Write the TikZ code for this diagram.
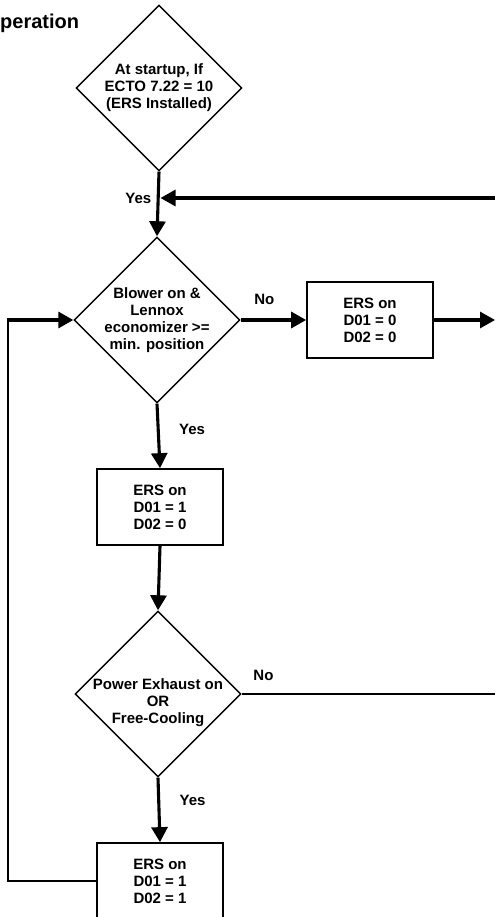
\documentclass[tikz,border=0pt]{standalone}
\usepackage{fontspec}
\setmainfont{Liberation Sans}
\usetikzlibrary{shapes.geometric,arrows.meta}

\tikzset{
  decision/.style={diamond, draw, line width=1.4pt, minimum width=166pt,
    minimum height=166pt, inner sep=-6pt, align=center},
  action/.style={rectangle, draw, line width=1.7pt, minimum width=126pt,
    minimum height=76pt, align=center},
  arrowhd/.style={-{Triangle[length=15pt,width=16pt]}},
  flow/.style={line width=3.1pt, arrowhd},
  thinline/.style={line width=1.8pt},
}

\begin{document}
\begin{tikzpicture}[x=1pt, y=-1pt, font=\fontsize{15}{17}\selectfont\bfseries]
\useasboundingbox (0,0) rectangle (495,917);

% heading (cut at the left edge)
\node[anchor=west, inner sep=0pt, font=\fontsize{20}{24}\selectfont\bfseries] (title) at (0,23) {peration};

% decisions and actions
\node[decision] (start)  at (159,88)  {At startup, If\\ECTO 7.22 = 10\\(ERS Installed)};
\node[decision] (blower) at (157,320) {Blower on \&\\Lennox\\economizer >=\\min. position};
\node[action]   (ers0)   at (370,320) {ERS on\\D01 = 0\\D02 = 0};
\node[action]   (ers1)   at (160,507) {ERS on\\D01 = 1\\D02 = 0};
\node[decision, label={[align=center, yshift=-9pt]center:{Power Exhaust on\\OR\\Free-Cooling}}] (power) at (158,694) {};
\node[action]   (ers2)   at (160,881) {ERS on\\D01 = 1\\D02 = 1};

% loose ends at the right edge, corner of the loop back
\coordinate (retin) at (495,198);
\coordinate (out1)  at (495,320);
\coordinate (out2)  at (495,694);
\coordinate (lpc)   at (8,320);

% connectors
\draw[flow] (start.south) -- (blower.north) node[pos=.42, left=2pt] {Yes};
\draw[flow, shorten >=1.5pt] (retin) -- (retin -| start.south);
\draw[flow] (blower.east) -- (ers0.west) node[pos=.36, above=10pt] {No};
\draw[flow] (ers0.east) -- (out1);
\draw[flow] (blower.south) -- (ers1.north) node[pos=.4, right=16pt] {Yes};
\draw[flow] (ers1.south) -- (power.north);
\draw[thinline] (power.east) -- (out2) node[pos=.086, above=9pt] {No};
\draw[flow] (power.south) -- (ers2.north) node[pos=.36, right=16pt] {Yes};
\draw[thinline] (ers2.west) -| (lpc);
\draw[flow] ([xshift=-.9pt]lpc) -- (blower.west);

\end{tikzpicture}
\end{document}
